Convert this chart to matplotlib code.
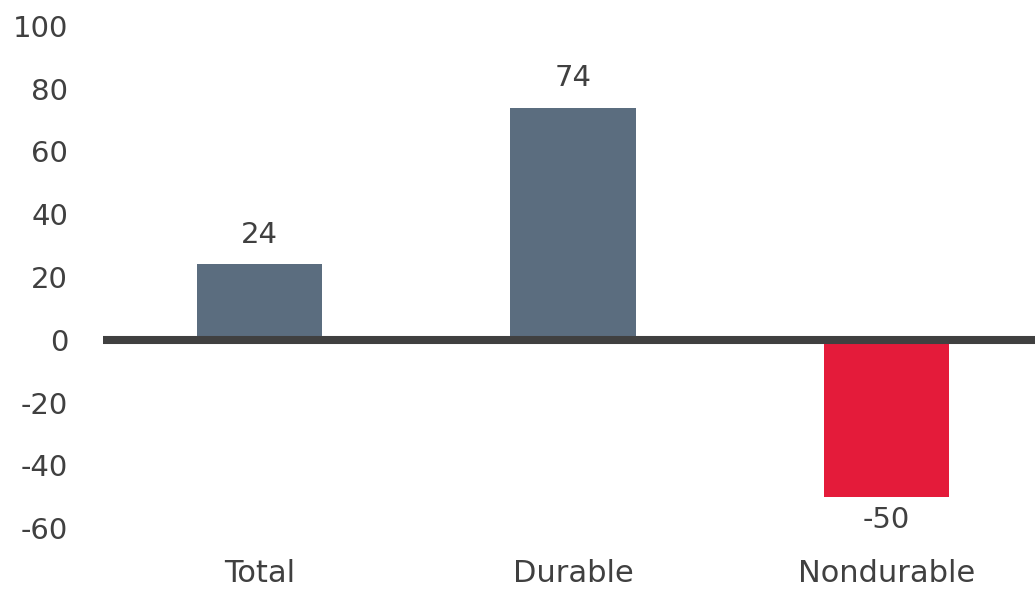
import matplotlib
matplotlib.use("Agg")
import matplotlib.pyplot as plt

categories = ["Total", "Durable", "Nondurable"]
values = [24, 74, -50]
yticks = [-60, -40, -20, 0, 20, 40, 60, 80, 100]

POS_COLOR = "#5B6D7F"
NEG_COLOR = "#E41B3A"
TEXT_COLOR = "#404040"

plt.rcParams["font.family"] = ["DejaVu Sans"]

fig = plt.figure(figsize=(10.35, 5.9), dpi=100)
ax = fig.add_axes([0.0993, 0.105, 0.9087, 0.851])

x = list(range(len(categories)))
colors = [POS_COLOR if v >= 0 else NEG_COLOR for v in values]
ax.bar(x, values, width=0.40, color=colors, zorder=2)

ax.axhline(0, color="#404040", linewidth=5.8, zorder=3)

for xi, v in zip(x, values):
    if v >= 0:
        ax.annotate(f"{v}", (xi, v), xytext=(0, 11), textcoords="offset points",
                    ha="center", va="bottom", fontsize=21, color=TEXT_COLOR)
    else:
        ax.annotate(f"{v}", (xi, v), xytext=(0, -7), textcoords="offset points",
                    ha="center", va="top", fontsize=21, color=TEXT_COLOR)

ax.set_xlim(-0.5, 2.5)
ax.set_ylim(-60, 100)
ax.set_yticks(yticks)
ax.set_yticklabels([str(t) for t in yticks])
ax.set_xticks(x)
ax.set_xticklabels(categories)
ax.tick_params(axis="y", length=0, pad=25, labelsize=21, labelcolor=TEXT_COLOR)
ax.tick_params(axis="x", length=0, pad=22, labelsize=22, labelcolor=TEXT_COLOR)
for s in ax.spines.values():
    s.set_visible(False)

fig.savefig("out.png", dpi=100, facecolor="white")
